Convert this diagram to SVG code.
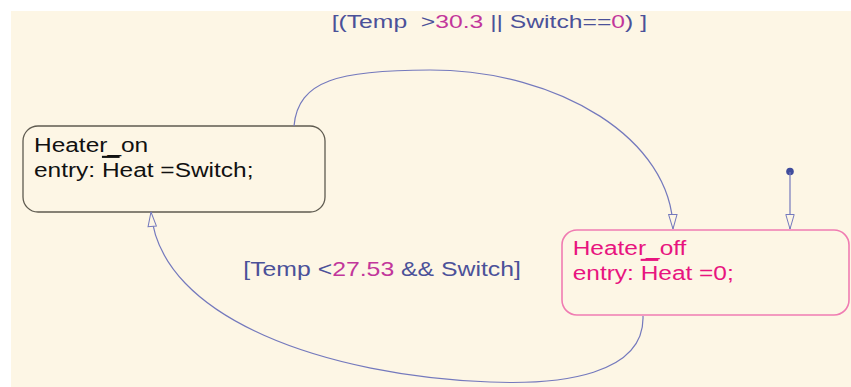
<svg xmlns="http://www.w3.org/2000/svg" width="851" height="387" viewBox="0 0 851 387">
  <style>
    .bg { fill: #fdf6e5; }
    .state { fill: #fdf6e5; }
    .on { stroke: #5f5b50; stroke-width: 1.3; }
    .off { stroke: #f07cb2; stroke-width: 1.6; }
    .txt { font-family: "Liberation Sans", Arial, sans-serif; font-size: 21px; }
    .on-txt { fill: #111111; }
    .off-txt { fill: #e8147f; }
    .lbl { font-family: "Liberation Sans", Arial, sans-serif; fill: #4b5199; white-space: pre; }
    .num { fill: #c2369b; }
    .wire { fill: none; stroke: #7479bd; stroke-width: 1.2; }
  </style>
  <defs>
    <marker id="open-arrow" viewBox="0 0 16 10" refX="15.5" refY="5" markerWidth="16" markerHeight="10" markerUnits="userSpaceOnUse" orient="auto">
      <path d="M1,0.8 L15.5,5 L1,9.2 Z" fill="#fdf6e5" stroke="#7479bd" stroke-width="1"/>
    </marker>
  </defs>

  <rect class="bg" x="11" y="11" width="840" height="376"/>

  <g id="Heater_on">
    <rect class="state on" x="23" y="126" width="302" height="86" rx="15" ry="15"/>
    <text class="txt on-txt" transform="translate(34,152) scale(1.165,1)">Heater_on</text>
    <text class="txt on-txt" transform="translate(34,177) scale(1.165,1)">entry: <tspan text-decoration="overline">H</tspan>eat =Switch;</text>
  </g>

  <g id="Heater_off">
    <rect class="state off" x="562" y="230" width="287" height="85" rx="15" ry="15"/>
    <text class="txt off-txt" transform="translate(572.7,255) scale(1.165,1)">Heater_off</text>
    <text class="txt off-txt" transform="translate(572.7,280) scale(1.165,1)">entry: <tspan text-decoration="overline">H</tspan>eat =0;</text>
  </g>

  <g id="connectors">
    <!-- Heater_on -> Heater_off -->
    <path class="wire" d="M294,126 C298,80 340,70 430,70 C560,70 672,140 673,229" marker-end="url(#open-arrow)"/>
    <!-- Heater_off -> Heater_on -->
    <path class="wire" d="M643,316 C645,375 560,385 490,382 C330,376 160,320 151,212" marker-end="url(#open-arrow)"/>
    <!-- default transition -->
    <circle cx="790" cy="171.5" r="3.8" fill="#3f4c9c"/>
    <path class="wire" d="M790,172 L790,229" marker-end="url(#open-arrow)"/>
  </g>

  <g id="labels">
    <text class="lbl" font-size="19" transform="translate(331.7,28) scale(1.3,1)">[(Temp  &gt;<tspan class="num">30.3</tspan> || Switch==<tspan class="num">0</tspan>) ]</text>
    <text class="lbl" font-size="20" transform="translate(243.3,275.5) scale(1.24,1)">[Temp &lt;<tspan class="num">27.53</tspan> &amp;&amp; Switch]</text>
  </g>
</svg>
